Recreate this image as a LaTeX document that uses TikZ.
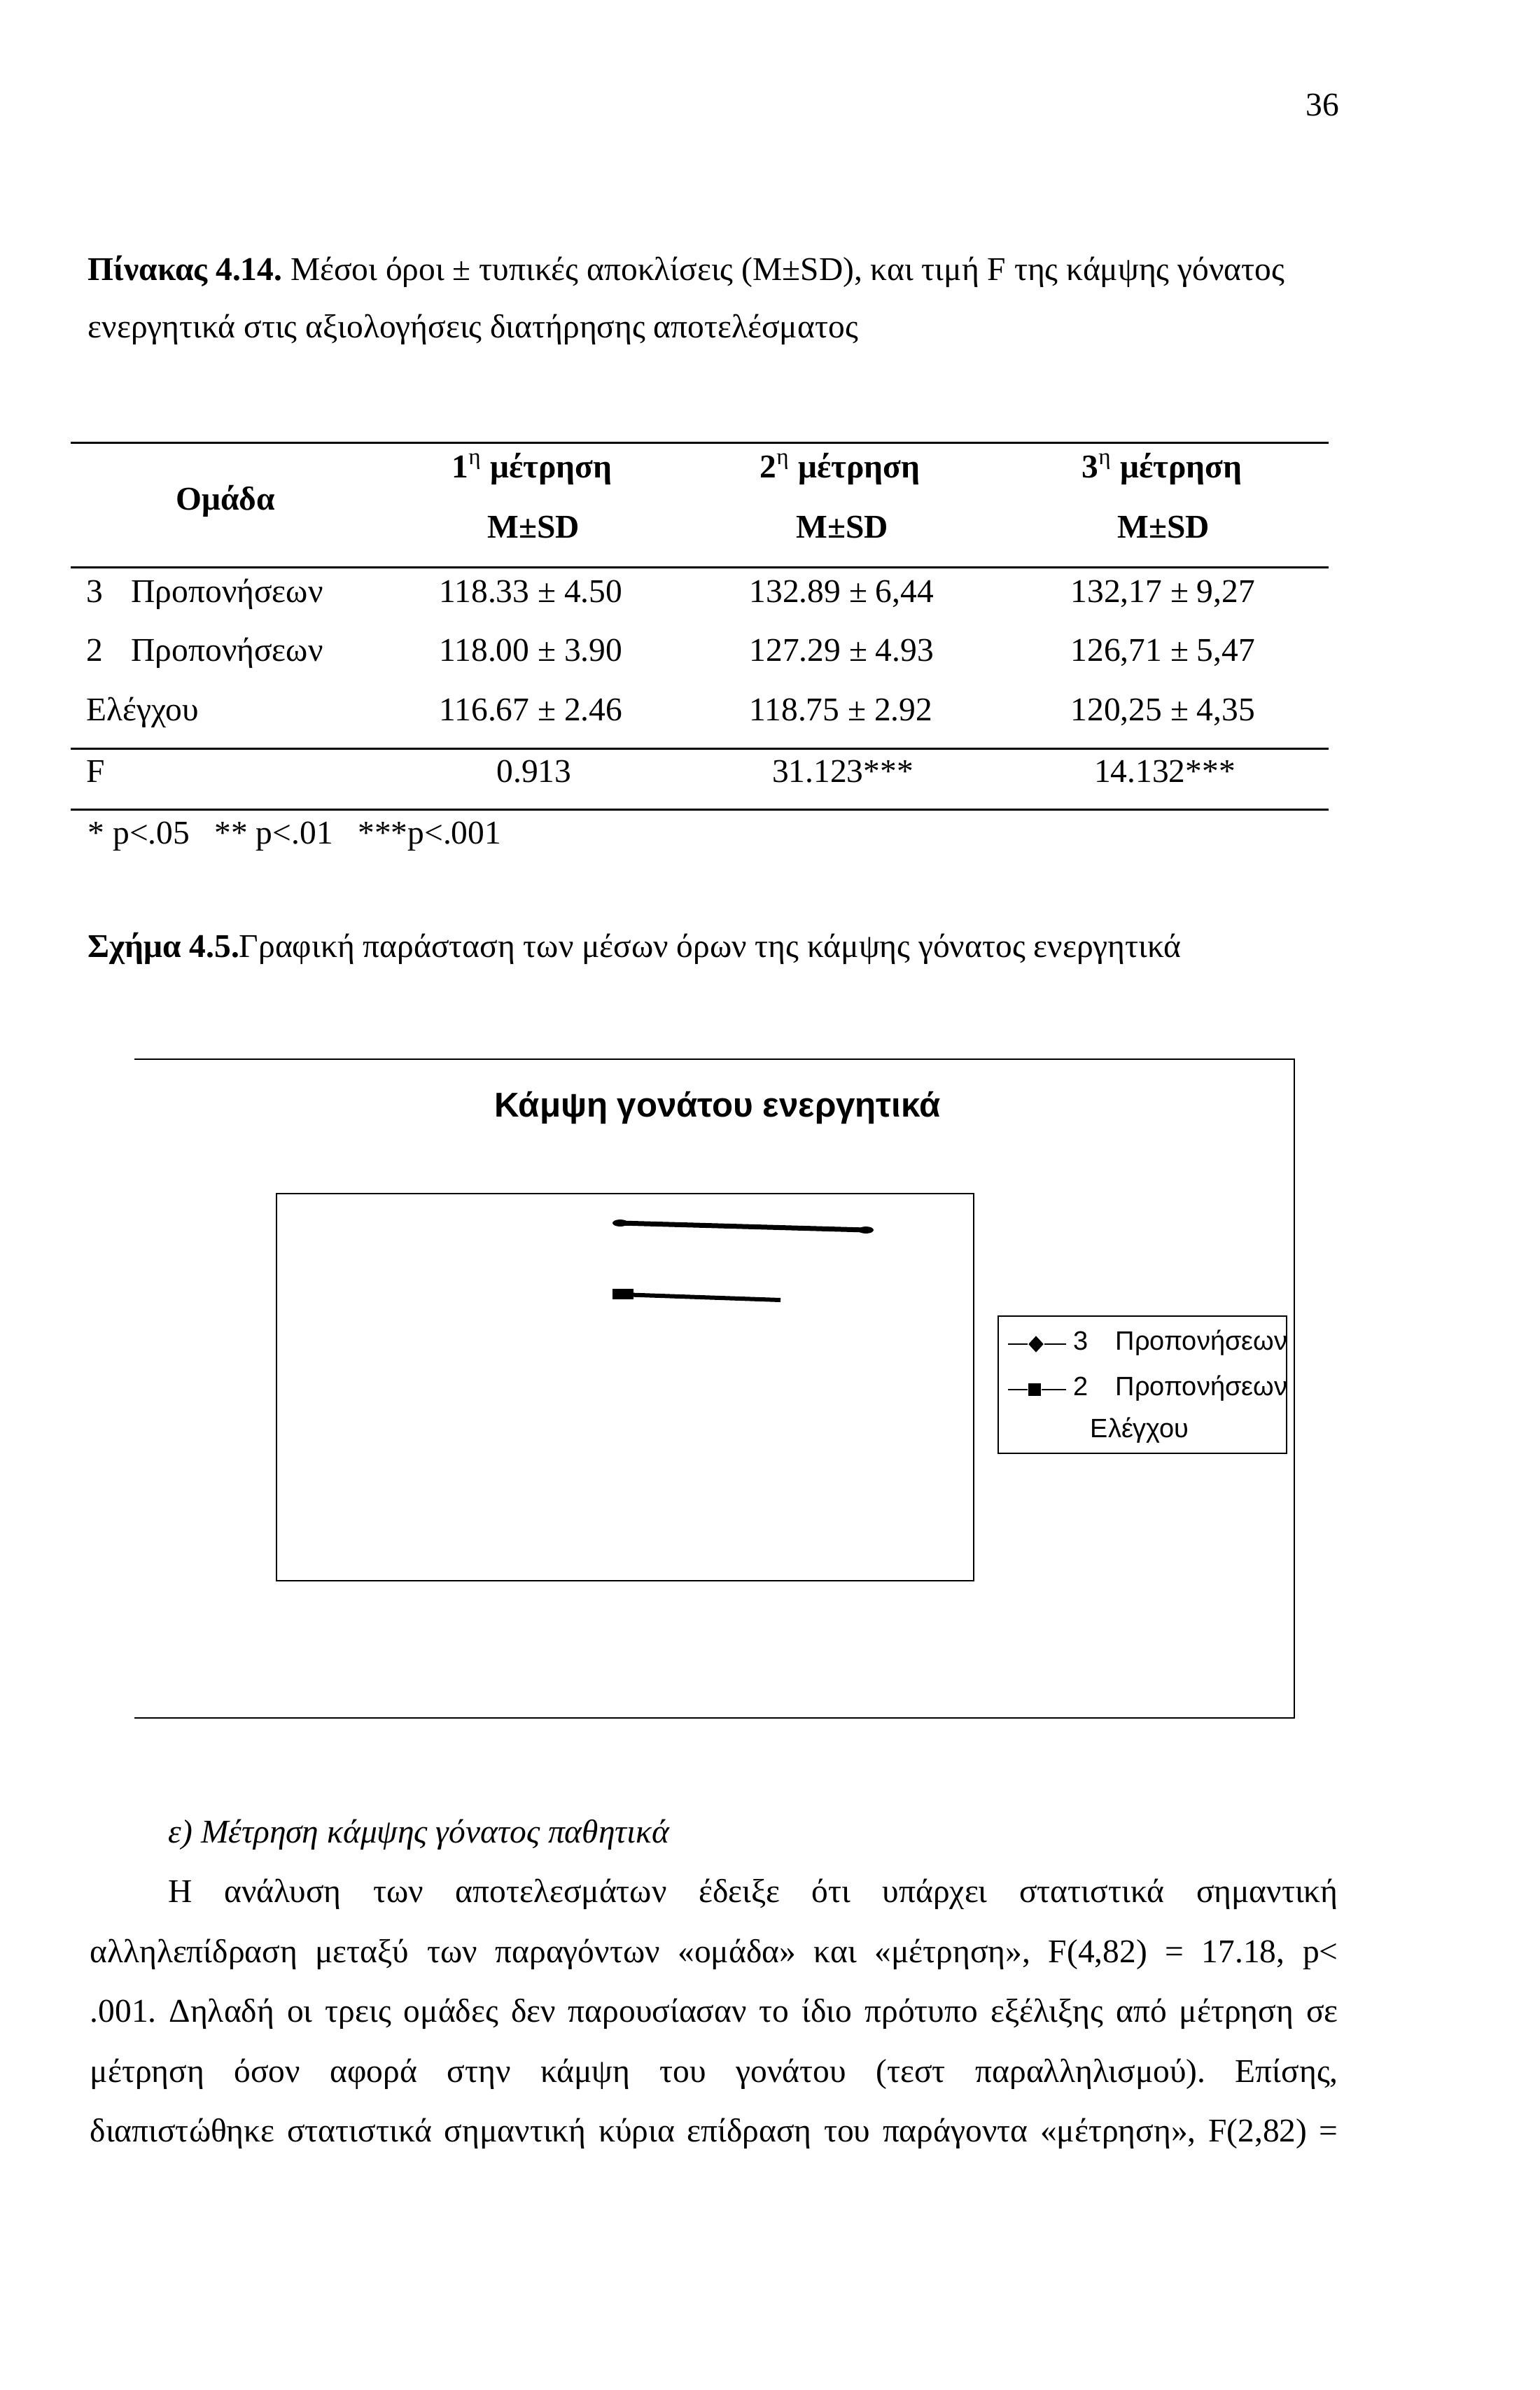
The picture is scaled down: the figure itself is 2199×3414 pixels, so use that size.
\documentclass[tikz,border=0pt]{standalone}
\usepackage{fontspec}
\setmainfont{Liberation Serif}
\newfontfamily\chartfont{Liberation Sans}
\usetikzlibrary{positioning}
\usetikzlibrary{shapes.geometric}
\frenchspacing

\begin{document}
\begin{tikzpicture}[x=0.1mm,y=-0.1mm,
  txt/.style={anchor=base west,inner sep=0pt,font=\fontsize{13.5}{16}\selectfont},
  ctr/.style={anchor=base,inner sep=0pt,font=\fontsize{13.5}{16}\selectfont},
  head/.style={anchor=base,inner sep=0pt,font=\fontsize{13.5}{16}\selectfont\bfseries},
  rule/.style={line width=0.3mm},
  frame/.style={line width=0.25mm},
  leg/.style={anchor=base west,inner sep=0pt,font=\chartfont\fontsize{10.8}{12}\selectfont},
  series/.style={line width=0.7mm,line cap=round}]

  \fill[white] (0,0) rectangle (2199,3414);
  \useasboundingbox (0,0) rectangle (2199,3414);

  % page number and caption
  \node[anchor=base east,inner sep=0pt,font=\fontsize{13.5}{16}\selectfont] (page) at (1914,165) {36};
  \node[txt] (cap1) at (125,400) {\textbf{Πίνακας 4.14.} Μέσοι όροι ± τυπικές αποκλίσεις (Μ±SD), και τιμή F της κάμψης γόνατος};
  \node[txt] (cap2) at (125,482) {ενεργητικά στις αξιολογήσεις διατήρησης αποτελέσματος};

  % table
  \draw[rule] (101,632) -- (1898,632);
  \draw[rule] (101,810) -- (1898,810);
  \draw[rule] (101,1069) -- (1898,1069);
  \draw[rule] (101,1156) -- (1898,1156);

  \node[head] (grp) at (322,728) {Ομάδα};
  \node[head] (m1) at (760,682) {1\textsuperscript{\mdseries η} μέτρηση};
  \node[head] (m2) at (1200,682) {2\textsuperscript{\mdseries η} μέτρηση};
  \node[head] (m3) at (1660,682) {3\textsuperscript{\mdseries η} μέτρηση};
  \node[head] (sd1) at (762,768) {M±SD};
  \node[head] (sd2) at (1203,768) {M±SD};
  \node[head] (sd3) at (1662,768) {M±SD};

  \node[txt] (r1n) at (123,860) {3};
  \node[txt] (r1) at (187,860) {Προπονήσεων};
  \node[txt] (r2n) at (123,944) {2};
  \node[txt] (r2) at (187,944) {Προπονήσεων};
  \node[txt] (r3) at (123,1029) {Ελέγχου};

  \node[txt] (v11) at (627,860) {118.33 ± 4.50};
  \node[txt] (v12) at (1070,860) {132.89 ± 6,44};
  \node[txt] (v13) at (1529,860) {132,17 ± 9,27};
  \node[txt] (v21) at (627,944) {118.00 ± 3.90};
  \node[txt] (v22) at (1070,944) {127.29 ± 4.93};
  \node[txt] (v23) at (1529,944) {126,71 ± 5,47};
  \node[txt] (v31) at (627,1029) {116.67 ± 2.46};
  \node[txt] (v32) at (1070,1029) {118.75 ± 2.92};
  \node[txt] (v33) at (1529,1029) {120,25 ± 4,35};

  \node[txt] (fl) at (123,1117) {F};
  \node[ctr] (f1) at (763,1117) {0.913};
  \node[ctr] (f2) at (1204,1117) {31.123***};
  \node[ctr] (f3) at (1664,1117) {14.132***};
  \node[txt] (note) at (125,1205) {* p<.05 \enspace** p<.01 \enspace***p<.001};

  \node[txt] (fig) at (125,1367) {\textbf{Σχήμα 4.5.}Γραφική παράσταση των μέσων όρων της κάμψης γόνατος ενεργητικά};

  % chart
  \draw[frame] (192,1513) -- (1849,1513) -- (1849,2454) -- (192,2454);
  \node[anchor=base,inner sep=0pt,font=\chartfont\fontsize{14}{16}\selectfont\bfseries] (title) at (1025,1595) {Κάμψη γονάτου ενεργητικά};
  \draw[frame] (395,1705) rectangle (1391,2258);

  \coordinate (s1a) at (886,1747);
  \coordinate (s1b) at (1237,1757);
  \coordinate (s2a) at (886,1849);
  \coordinate (s2b) at (1115,1857);
  \draw[series] (s1a) -- (s1b);
  \fill (s1a) ellipse [x radius=1.1mm,y radius=0.5mm];
  \fill (s1b) ellipse [x radius=1.1mm,y radius=0.5mm];
  \draw[line width=0.6mm] (s2a) -- (s2b);
  \fill (875,1841) rectangle (905,1856);

  % legend
  \draw[frame] (1426,1880) rectangle (1838,2076);
  \coordinate (l1a) at (1440,1920);
  \coordinate (l1b) at (1523,1920);
  \node[diamond,fill=black,inner sep=0pt,minimum width=2.2mm,minimum height=2.4mm] (d1) at (1480,1920) {};
  \draw[frame] (l1a) -- (d1) -- (l1b);
  \coordinate (l2a) at (1440,1985);
  \coordinate (l2b) at (1523,1985);
  \node[rectangle,fill=black,inner sep=0pt,minimum size=1.8mm] (q2) at (1478,1985) {};
  \draw[frame] (l2a) -- (q2) -- (l2b);
  \node[leg] (k1) at (1533,1928) {3};
  \node[leg] (t1) at (1593,1928) {Προπονήσεων};
  \node[leg] (k2) at (1533,1993) {2};
  \node[leg] (t2) at (1593,1993) {Προπονήσεων};
  \node[leg] (t3) at (1557,2053) {Ελέγχου};

  % text below
  \node[txt,font=\fontsize{13.5}{16}\selectfont\itshape] (sub) at (240,2632) {ε) Μέτρηση κάμψης γόνατος παθητικά};
  \node[txt] (p1) at (240,2717) {\makebox[167.1mm][s]{Η ανάλυση των αποτελεσμάτων έδειξε ότι υπάρχει στατιστικά σημαντική}};
  \node[txt] (p2) at (128,2803) {\makebox[178.3mm][s]{αλληλεπίδραση μεταξύ των παραγόντων «ομάδα» και «μέτρηση», F(4,82) = 17.18, p<}};
  \node[txt] (p3) at (128,2888) {\makebox[178.3mm][s]{.001. Δηλαδή οι τρεις ομάδες δεν παρουσίασαν το ίδιο πρότυπο εξέλιξης από μέτρηση σε}};
  \node[txt] (p4) at (128,2974) {\makebox[178.3mm][s]{μέτρηση όσον αφορά στην κάμψη του γονάτου (τεστ παραλληλισμού). Επίσης,}};
  \node[txt] (p5) at (128,3059) {\makebox[178.3mm][s]{διαπιστώθηκε στατιστικά σημαντική κύρια επίδραση του παράγοντα «μέτρηση», F(2,82) =}};
\end{tikzpicture}
\end{document}
